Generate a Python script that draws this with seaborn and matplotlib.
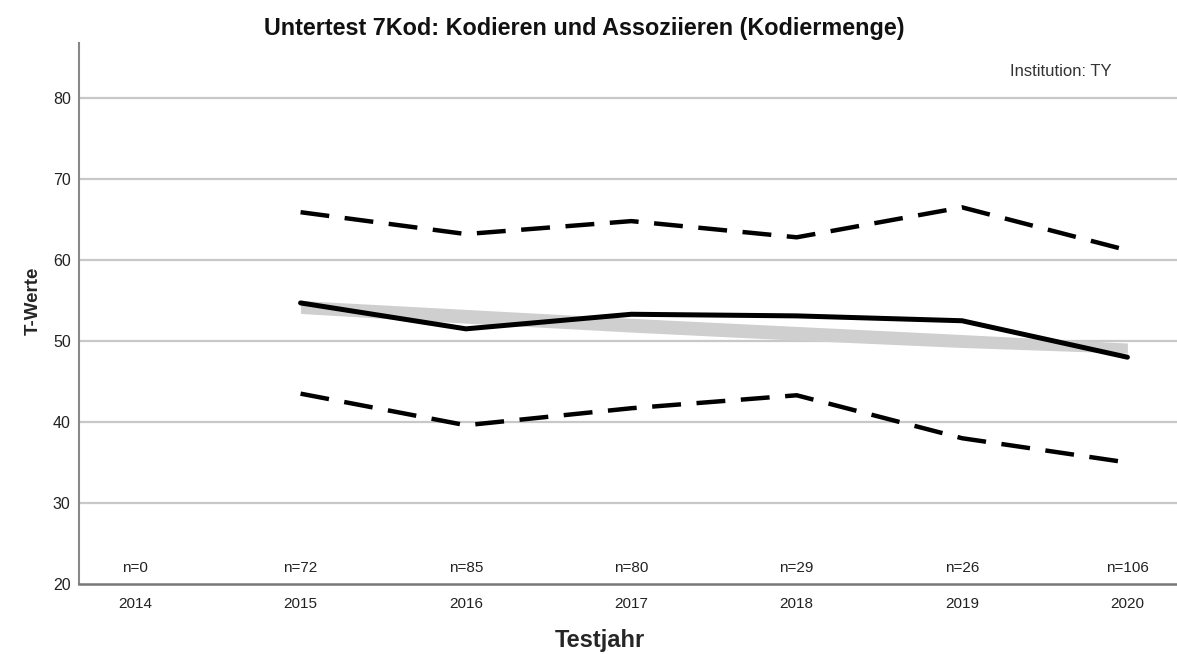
import matplotlib
matplotlib.use('Agg')
import pandas as pd
import numpy as np
import matplotlib.pyplot as plt
import seaborn as sns

# Daten
jahre = [2014, 2015, 2016, 2017, 2018, 2019, 2020]
n_werte = [0, 72, 85, 80, 29, 26, 106]

jahre_daten = [2015, 2016, 2017, 2018, 2019, 2020]
mittelwert = [54.7, 51.5, 53.3, 53.1, 52.5, 48.0]
obere_grenze = [65.9, 63.2, 64.8, 62.8, 66.5, 61.2]
untere_grenze = [43.5, 39.6, 41.7, 43.3, 38.0, 35.0]

# graues Band (Trend)
band_unten = [53.4, 52.2, 51.1, 50.1, 49.2, 48.5]
band_oben = [55.0, 53.9, 52.8, 51.8, 50.8, 49.75]

df = pd.DataFrame({'Jahr': jahre_daten, 'MW': mittelwert,
                   'oben': obere_grenze, 'unten': untere_grenze})

sns.set_theme(style="white")
plt.rcParams['font.family'] = ['Liberation Sans', 'DejaVu Sans']

fig = plt.figure(figsize=(11.77, 6.54), dpi=100)
ax = fig.add_axes([0.0671, 0.107, 0.9329, 0.8268])

# Gitterlinien
for y in [30, 40, 50, 60, 70, 80]:
    ax.axhline(y, color='#c8c8c8', linewidth=1.6, zorder=0)

ax.fill_between(jahre_daten, band_unten, band_oben, color='#cfcfcf', linewidth=0, zorder=1)

sns.lineplot(data=df, x='Jahr', y='MW', color='black', linewidth=3.6, ax=ax, zorder=3)
sns.lineplot(data=df, x='Jahr', y='oben', color='black', linewidth=3.2, ax=ax, zorder=3,
             dashes=False, linestyle=(0, (6.5, 3.5)))
sns.lineplot(data=df, x='Jahr', y='unten', color='black', linewidth=3.2, ax=ax, zorder=3,
             dashes=False, linestyle=(0, (6.5, 3.5)))

for j, n in zip(jahre, n_werte):
    ax.text(j, 22, f"n={n}", ha='center', va='center', fontsize=11, color='#222222')

ax.text(2019.6, 83.3, "Institution: TY", ha='center', va='center', fontsize=12, color='#333333')

ax.set_xlim(2013.66, 2020.30)
ax.set_ylim(20, 86.75)
ax.set_xticks(jahre)
ax.set_xticklabels([str(j) for j in jahre], fontsize=11, color='#222222')
ax.set_yticks([20, 30, 40, 50, 60, 70, 80])
ax.set_yticklabels(['20', '30', '40', '50', '60', '70', '80'], fontsize=11.5, color='#222222')
ax.tick_params(axis='x', length=0, pad=9)
ax.tick_params(axis='y', length=0, pad=6)
ax.set_xlabel('')
ax.set_ylabel('')

for s in ['top', 'right']:
    ax.spines[s].set_visible(False)
ax.spines['left'].set_color('#888888')
ax.spines['bottom'].set_color('#777777')
ax.spines['left'].set_linewidth(1.5)
ax.spines['bottom'].set_linewidth(1.8)

fig.text(0.496, 0.957, "Untertest 7Kod: Kodieren und Assoziieren (Kodiermenge)",
         ha='center', va='center', fontsize=16.8, fontweight='bold', color='#111111')
fig.text(0.51, 0.02, "Testjahr", ha='center', va='center', fontsize=17, fontweight='bold')
fig.text(0.028, 0.54, "T-Werte", ha='center', va='center', fontsize=13.5, fontweight='bold',
         rotation=90)

fig.savefig('out.png', dpi=100)
